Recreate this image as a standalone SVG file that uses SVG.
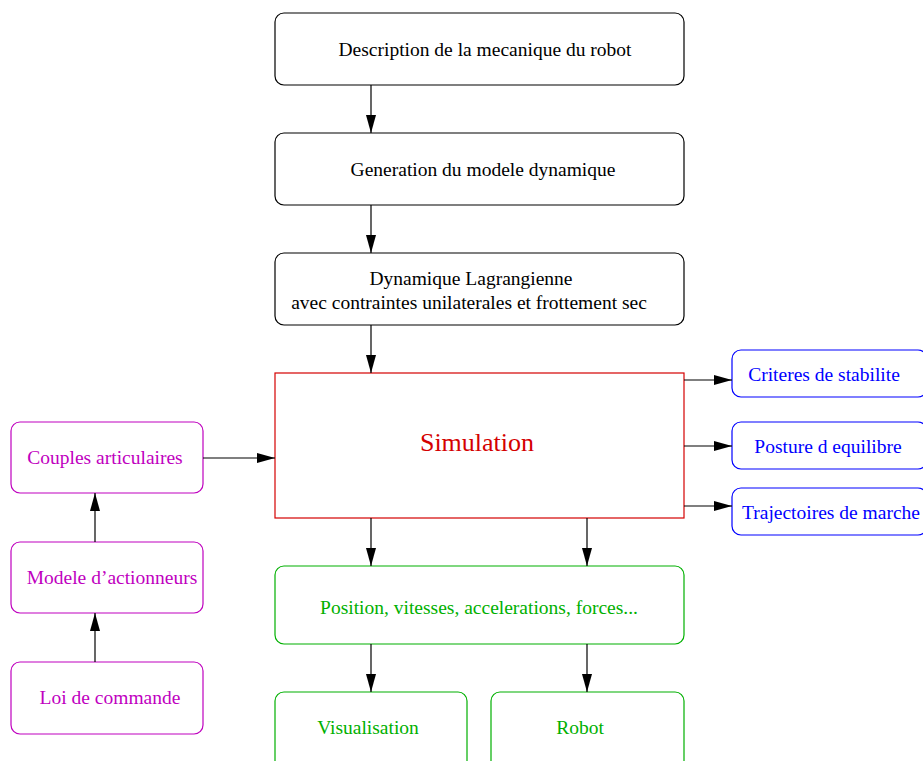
<svg xmlns="http://www.w3.org/2000/svg" width="923" height="761" viewBox="0 0 923 761">
<style>
text{font-family:"Liberation Serif","Times New Roman",serif;font-size:19.5px;text-anchor:middle}
.k rect{fill:#fff;stroke:#000;stroke-width:1.2}
.b rect{fill:#fff;stroke:#0000ff;stroke-width:1.2}
.b text{fill:#0000ff}
.m rect{fill:#fff;stroke:#bf00bf;stroke-width:1.2}
.m text{fill:#bf00bf}
.g rect{fill:#fff;stroke:#00b000;stroke-width:1.2}
.g text{fill:#00b000}
#conn line{stroke:#000;stroke-width:1.2;marker-end:url(#ah)}
</style>
<defs>
<marker id="ah" markerUnits="userSpaceOnUse" markerWidth="20" markerHeight="12" refX="18" refY="5" orient="auto">
<path d="M0,0 L18,5 L0,10 Z" fill="#000"/>
</marker>
</defs>
<rect width="923" height="761" fill="#fff"/>
<g id="n1" class="k"><rect x="275" y="13" width="409" height="72" rx="9"/><text x="485" y="56">Description de la mecanique du robot</text></g>
<g id="n2" class="k"><rect x="275" y="133" width="409" height="72" rx="9"/><text x="483" y="176">Generation du modele dynamique</text></g>
<g id="n3" class="k"><rect x="275" y="253" width="409" height="72" rx="9"/><text x="471" y="285">Dynamique Lagrangienne</text><text x="469" y="309">avec contraintes unilaterales et frottement sec</text></g>
<g id="sim"><rect x="275" y="373" width="409" height="145" fill="#fff" stroke="#d40000" stroke-width="1.2"/><text x="477" y="451" style="font-size:26px;fill:#d40000">Simulation</text></g>
<g id="crit" class="b"><rect x="732" y="350" width="195" height="47" rx="9"/><text x="824" y="381">Criteres de stabilite</text></g>
<g id="post" class="b"><rect x="732" y="422" width="195" height="47" rx="9"/><text x="828" y="453">Posture d equilibre</text></g>
<g id="traj" class="b"><rect x="732" y="488" width="195" height="47" rx="9"/><text x="831" y="519">Trajectoires de marche</text></g>
<g id="coup" class="m"><rect x="11" y="422" width="192" height="71" rx="9"/><text x="105" y="464">Couples articulaires</text></g>
<g id="mod" class="m"><rect x="11" y="542" width="192" height="71" rx="9"/><text x="112" y="584">Modele d’actionneurs</text></g>
<g id="loi" class="m"><rect x="11" y="662" width="192" height="72" rx="9"/><text x="110" y="704">Loi de commande</text></g>
<g id="pos" class="g"><rect x="275" y="566" width="409" height="78" rx="9"/><text x="479" y="614">Position, vitesses, accelerations, forces...</text></g>
<g id="vis" class="g"><rect x="275" y="692" width="192" height="80" rx="9"/><text x="368" y="734">Visualisation</text></g>
<g id="rob" class="g"><rect x="491" y="692" width="193" height="80" rx="9"/><text x="580" y="734">Robot</text></g>
<g id="conn">
<line x1="371" y1="85" x2="371" y2="133"/>
<line x1="371" y1="205" x2="371" y2="253"/>
<line x1="371" y1="325" x2="371" y2="373"/>
<line x1="684" y1="380" x2="732" y2="380"/>
<line x1="684" y1="446" x2="732" y2="446"/>
<line x1="684" y1="506" x2="732" y2="506"/>
<line x1="203" y1="458" x2="275" y2="458"/>
<line x1="95" y1="542" x2="95" y2="493"/>
<line x1="95" y1="662" x2="95" y2="613"/>
<line x1="371" y1="518" x2="371" y2="566"/>
<line x1="587" y1="518" x2="587" y2="566"/>
<line x1="371" y1="644" x2="371" y2="692"/>
<line x1="587" y1="644" x2="587" y2="692"/>
</g>
</svg>
